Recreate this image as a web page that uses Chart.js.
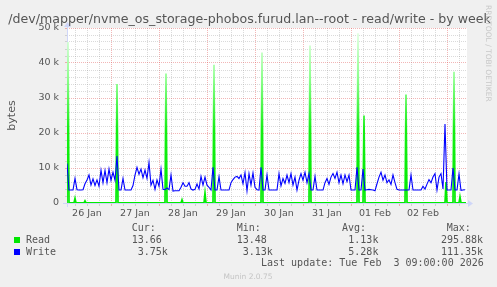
<!DOCTYPE html>
<html><head><meta charset="utf-8">
<script src="https://cdn.jsdelivr.net/npm/chart.js@4"></script>
<style>
html,body{margin:0;padding:0;background:#f0f0f0;}
#wrap{position:relative;width:497px;height:287px;overflow:hidden;background:#f0f0f0;}
canvas{position:absolute;left:0;top:0;}
.t{position:absolute;font-family:"DejaVu Sans Mono",monospace;font-size:10px;line-height:12px;color:#555;white-space:pre;}
.sq{position:absolute;width:6px;height:6px;}
#title{position:absolute;left:1px;width:497px;top:11.1px;text-align:center;font-family:"DejaVu Sans",sans-serif;font-size:12.6px;line-height:15px;color:#555;white-space:nowrap;}
#rrd{position:absolute;left:484px;top:5px;writing-mode:vertical-rl;font-family:"DejaVu Sans",sans-serif;font-size:7.5px;line-height:9px;color:#c8c8c8;white-space:nowrap;}
#munin{position:absolute;left:0;width:496px;top:271.6px;text-align:center;font-family:"DejaVu Sans",sans-serif;font-size:7.5px;line-height:9px;color:#c4c4c4;}
</style></head>
<body>
<div id="wrap">
<canvas id="c" width="497" height="287"></canvas>
<div id="title">/dev/mapper/nvme_os_storage-phobos.furud.lan--root - read/write - by week</div>
<div id="rrd">RRDTOOL / TOBI OETIKER</div>
<div class="t" style="left:131.7px;top:222.2px">Cur:</div>
<div class="t" style="left:236.7px;top:222.2px">Min:</div>
<div class="t" style="left:342px;top:222.2px">Avg:</div>
<div class="t" style="left:446.7px;top:222.2px">Max:</div>
<div class="sq" style="left:14px;top:237px;background:#00e600"></div>
<div class="t" style="left:26px;top:233.8px">Read</div>
<div class="t" style="left:131.7px;top:233.8px">13.66</div>
<div class="t" style="left:236.7px;top:233.8px">13.48</div>
<div class="t" style="left:348.3px;top:233.8px">1.13k</div>
<div class="t" style="left:441px;top:233.8px">295.88k</div>
<div class="sq" style="left:14px;top:249px;background:#0000ff"></div>
<div class="t" style="left:26px;top:245.5px">Write</div>
<div class="t" style="left:137.7px;top:245.5px">3.75k</div>
<div class="t" style="left:242.7px;top:245.5px">3.13k</div>
<div class="t" style="left:348.3px;top:245.5px">5.28k</div>
<div class="t" style="left:441px;top:245.5px">111.35k</div>
<div class="t" style="left:261px;top:257.2px">Last update: Tue Feb  3 09:00:00 2026</div>
<div id="munin">Munin 2.0.75</div>
</div>
<script>
// Time axis: hours since Jan 26 02:00 (graph start); last update Feb 3 09:00
const dayLabels = ['26 Jan','27 Jan','28 Jan','29 Jan','30 Jan','31 Jan','01 Feb','02 Feb'];
const firstNoonHour = 10;      // 26 Jan 12:00
const firstMidnightHour = 22;  // 27 Jan 00:00
const firstGridHour = 4;       // 26 Jan 06:00
const spanHours = 200;

const yMajorTicks = [0, 10000, 20000, 30000, 40000, 50000];
const yMajorLabels = ['0', '10 k', '20 k', '30 k', '40 k', '50 k'];

// Write (bytes), hourly samples
const writeStepHours = 1;
const writeBytes = [
 11300,3700,3700,3700,7000,3800,3700,3700,3800,5500,6600,8000,5100,6900,5000,6600,4800,9400,5800,9300,
 5800,9700,6500,8800,6500,13400,3700,3700,7000,3700,3700,3700,3700,5000,8000,10200,8200,9700,7200,9400,
 7000,11600,5100,6500,3900,6600,4800,9700,3900,3800,4300,3800,8000,3400,3500,3500,3500,4500,5800,4800,
 4800,5800,4000,3700,3900,5400,4000,7600,5100,7400,5100,4500,3700,10200,3700,3700,7500,3700,3700,3700,
 3700,3700,5800,6700,7400,7600,7000,8000,5500,8700,3500,8400,5100,8600,4500,3800,3700,10200,3700,3700,
 8000,3700,3700,3700,3700,3700,8400,4900,7000,5600,8000,5800,8400,5100,7400,3700,6500,8400,6500,8800,
 5800,8400,3700,3700,7600,3700,3700,3700,3700,5800,7000,5300,7400,8400,7000,8800,5800,8000,5500,8000,
 6100,8000,3700,3700,3700,10200,3700,3700,9700,3700,3800,3900,3800,3700,3500,5500,7400,8800,6500,8000,
 5800,6600,5300,8000,5800,3900,3700,3700,3700,3700,3700,3700,8000,3700,3700,3700,3700,3700,4800,4000,
 5400,6700,5800,7400,8400,3700,7400,8400,4000,22600,3700,3700,3700,10000,3700,3700,8300,3600,3700,3800
];

// Read (bytes), 30-minute samples
const readStepHours = 0.5;
const readBytes = [
 13,46000,13,13,13,13,13,13,1300,13,
 13,13,13,13,13,13,13,13,600,13,
 13,13,13,13,13,13,13,13,13,13,
 13,13,13,13,13,13,13,13,13,13,
 13,13,13,13,13,13,13,13,13,13,
 34000,13,13,13,13,13,13,13,13,13,
 13,13,13,13,13,13,13,13,13,13,
 13,13,13,13,13,13,13,13,13,13,
 13,13,13,13,13,13,13,13,13,13,
 13,13,13,13,13,13,13,13,13,37000,
 13,13,13,13,13,13,13,13,13,13,
 13,13,13,13,13,900,13,13,13,13,
 13,13,13,13,13,13,13,13,13,13,
 13,13,13,13,13,13,13,13,2800,13,
 13,13,13,13,13,13,13,39500,13,13,
 13,13,13,13,13,13,13,13,13,13,
 13,13,13,13,13,13,13,13,13,13,
 13,13,13,13,13,13,13,13,13,13,
 13,13,13,13,13,13,13,13,13,13,
 13,13,13,13,13,43000,13,13,13,13,
 13,13,13,13,13,13,13,13,13,13,
 13,13,13,13,13,13,13,13,13,13,
 13,13,13,13,13,13,13,13,13,13,
 13,13,13,13,13,13,13,13,13,13,
 13,13,13,45000,13,13,13,13,13,13,
 13,13,13,13,13,13,13,13,13,13,
 13,13,13,13,13,13,13,13,13,13,
 13,13,13,13,13,13,13,13,13,13,
 13,13,13,13,13,13,13,13,13,13,
 13,48500,13,13,13,13,13,25000,13,13,
 13,13,13,13,13,13,13,13,13,13,
 13,13,13,13,13,13,13,13,13,13,
 13,13,13,13,13,13,13,13,13,13,
 13,13,13,13,13,13,13,13,13,31000,
 13,13,13,13,13,13,13,13,13,13,
 13,13,13,13,13,13,13,13,13,13,
 13,13,13,13,13,13,13,13,13,13,
 13,13,13,13,13,13,13,13,13,6000,
 13,13,13,13,13,13,13,37500,13,13,
 13,13,13,1700,13,13,13,13,13,14
];

const RED_GRID = 'rgba(224,80,80,0.42)';
const GRAY_GRID = 'rgba(140,140,140,0.32)';
const FONT_COLOR = '#555';

const bgPlugin = {
  id: 'bg',
  beforeDraw(chart) {
    const {ctx, chartArea: a} = chart;
    ctx.save();
    ctx.fillStyle = '#f0f0f0';
    ctx.fillRect(0, 0, chart.width, chart.height);
    ctx.fillStyle = '#ffffff';
    ctx.fillRect(a.left, a.top, a.right - a.left, a.bottom - a.top);
    ctx.restore();
  }
};

const axesPlugin = {
  id: 'axes',
  beforeDatasetsDraw(chart) {
    const {ctx, chartArea: a} = chart;
    const y0 = Math.round(a.bottom) + 0.5;
    const x0 = Math.round(a.left) + 0.5;
    ctx.save();
    ctx.strokeStyle = '#CFD6F8';
    ctx.fillStyle = '#CFD6F8';
    ctx.lineWidth = 1;
    ctx.beginPath(); ctx.moveTo(a.left - 4, y0); ctx.lineTo(a.right + 2, y0); ctx.stroke();
    ctx.beginPath(); ctx.moveTo(a.right + 1, y0 - 3.5); ctx.lineTo(a.right + 6, y0); ctx.lineTo(a.right + 1, y0 + 3.5); ctx.closePath(); ctx.fill();
    ctx.beginPath(); ctx.moveTo(x0, a.bottom + 4); ctx.lineTo(x0, a.top - 2); ctx.stroke();
    ctx.beginPath(); ctx.moveTo(x0 - 3.5, a.top - 1); ctx.lineTo(x0, a.top - 6); ctx.lineTo(x0 + 3.5, a.top - 1); ctx.closePath(); ctx.fill();
    ctx.restore();
  }
};

function readColor(c) {
  const chart = c.chart;
  const a = chart.chartArea;
  if (!a) return '#00e600';
  const g = chart.ctx.createLinearGradient(0, a.bottom, 0, a.top);
  g.addColorStop(0, '#00ec00');
  g.addColorStop(0.42, '#14f014');
  g.addColorStop(0.72, '#90ff90');
  g.addColorStop(1, '#eaffea');
  return g;
}

new Chart(document.getElementById('c'), {
  type: 'line',
  data: {
    datasets: [
      {
        label: 'Read',
        data: readBytes.map((v, i) => ({x: i * readStepHours, y: v})),
        borderColor: readColor,
        borderWidth: 1.7,
        pointRadius: 0,
        tension: 0,
        fill: false,
        order: 2
      },
      {
        label: 'Write',
        data: writeBytes.map((v, i) => ({x: i * writeStepHours, y: v})),
        borderColor: '#0000ff',
        borderWidth: 1.1,
        pointRadius: 0,
        tension: 0,
        fill: false,
        order: 1
      }
    ]
  },
  options: {
    responsive: false,
    animation: false,
    devicePixelRatio: 1,
    layout: {padding: {left: 0, right: 30, top: 28, bottom: 64}},
    plugins: {
      legend: {display: false},
      tooltip: {enabled: false},
      title: {display: false}
    },
    scales: {
      x: {
        type: 'linear',
        min: 0,
        max: spanHours,
        afterBuildTicks(s) {
          const t = [];
          for (let h = firstGridHour; h < spanHours; h += 6) t.push({value: h});
          s.ticks = t;
        },
        afterFit(s) { s.height = 20; },
        ticks: {
          autoSkip: false, maxRotation: 0, minRotation: 0, padding: 1.5,
          color: FONT_COLOR,
          font: {family: 'DejaVu Sans', size: 9.5},
          callback(v) {
            const k = (v - firstNoonHour) / 24;
            return (Number.isInteger(k) && k >= 0 && k < dayLabels.length) ? dayLabels[k] : '';
          }
        },
        grid: {
          color(c) { return (c.tick && (c.tick.value - firstMidnightHour) % 24 === 0) ? RED_GRID : GRAY_GRID; },
          lineWidth: 1,
          tickLength: 3,
          drawTicks: true
        },
        border: {display: false, dash: [1, 1]}
      },
      y: {
        min: 0,
        max: 50000,
        afterBuildTicks(s) {
          const t = [];
          for (let v = 0; v <= 50000; v += 2000) t.push({value: v});
          s.ticks = t;
        },
        afterFit(s) { s.width = 67; },
        ticks: {
          autoSkip: false, padding: 6,
          color: FONT_COLOR,
          font: {family: 'DejaVu Sans', size: 9.5},
          callback(v) {
            const i = yMajorTicks.indexOf(v);
            return i >= 0 ? yMajorLabels[i] : '';
          }
        },
        grid: {
          color(c) { return (c.tick && c.tick.value % 10000 === 0) ? RED_GRID : GRAY_GRID; },
          lineWidth: 1,
          tickLength: 2,
          drawTicks: true
        },
        border: {display: false, dash: [1, 1]},
        title: {
          display: true, text: 'bytes', color: FONT_COLOR,
          font: {family: 'DejaVu Sans', size: 11},
          padding: {top: 5.4, bottom: 0}
        }
      }
    }
  },
  plugins: [bgPlugin, axesPlugin]
});
</script>
</body></html>
